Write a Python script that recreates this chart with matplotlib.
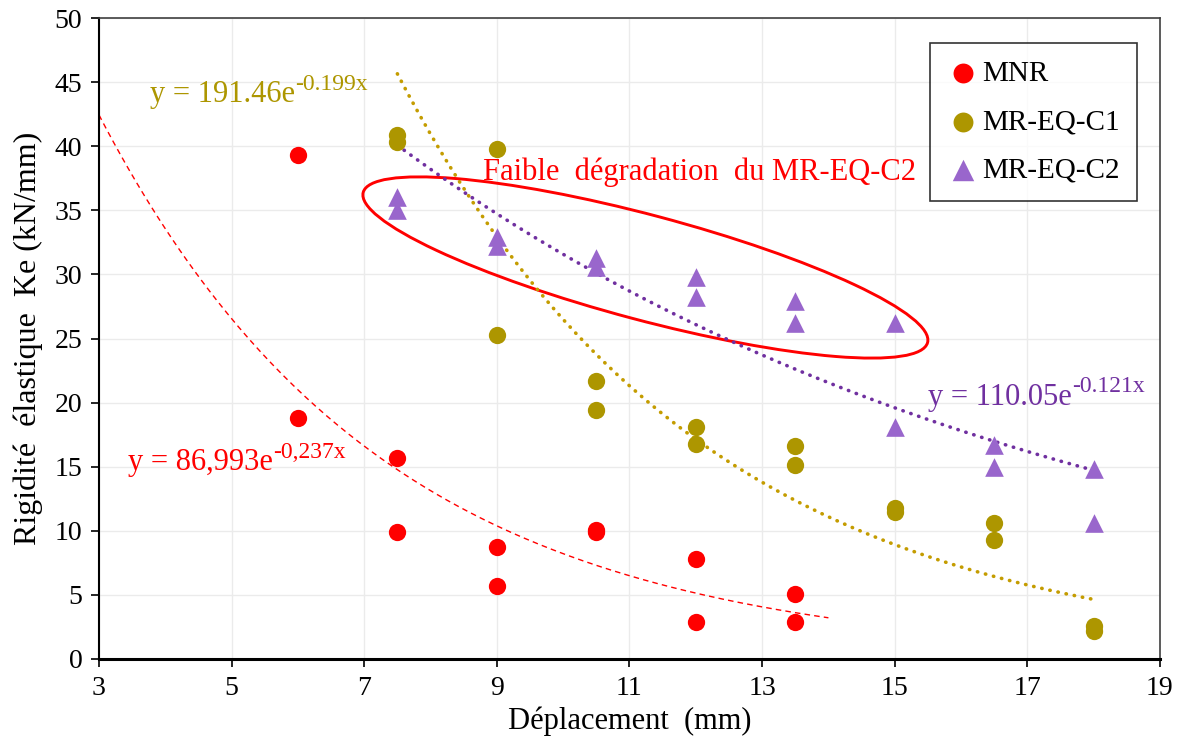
import numpy as np
import matplotlib
matplotlib.use("Agg")
import matplotlib.pyplot as plt
from matplotlib.patches import Ellipse
from matplotlib.transforms import ScaledTranslation

plt.rcParams['font.family'] = ['Liberation Serif', 'DejaVu Serif']

# data
x_mnr = [6, 6, 7.5, 7.5, 9, 9, 10.5, 10.5, 12, 12, 13.5, 13.5]
y_mnr = [39.3, 18.8, 15.7, 9.9, 8.7, 5.7, 10.1, 9.9, 7.8, 2.9, 5.1, 2.9]

x_c1 = [7.5, 7.5, 9, 9, 10.5, 10.5, 12, 12, 13.5, 13.5, 15, 15, 16.5, 16.5, 18, 18]
y_c1 = [40.9, 40.3, 39.8, 25.3, 21.7, 19.4, 18.1, 16.8, 16.6, 15.1, 11.8, 11.5, 10.6, 9.3, 2.6, 2.2]

x_c2 = [7.5, 7.5, 9, 9, 10.5, 10.5, 12, 12, 13.5, 13.5, 15, 15, 16.5, 16.5, 18, 18]
y_c2 = [36.0, 35.0, 32.9, 32.2, 31.3, 30.6, 29.8, 28.2, 27.9, 26.2, 26.2, 18.1, 16.7, 15.0, 14.8, 10.6]

red = '#FF0000'
olive = '#AD9600'
olive_line = '#C49C00'
purple = '#9966CC'
purple_line = '#7030A0'


def expfit(x, y, x0, x1):
    # exponential trendline, like excel (log-linear fit)
    b, lna = np.polyfit(x, np.log(y), 1)
    xs = np.linspace(x0, x1, 200)
    return xs, np.exp(lna) * np.exp(b * xs)


def equation(ax, x, y, base, sup, color):
    t = ax.text(x, y, base, color=color, fontsize=22, va='center')
    ax.annotate(sup, xy=(1, 0.5), xycoords=t, color=color, fontsize=17, va='bottom', ha='left')


fig = plt.figure(figsize=(11.81, 7.42), dpi=100)
ax = fig.add_axes([0.0838, 0.1119, 0.8984, 0.8638])

ax.grid(True, color='#EBEBEB', linewidth=1)
ax.set_axisbelow(True)

xs, ys = expfit(x_mnr, y_mnr, 3, 14)
ax.plot(xs, ys, color=red, lw=1, linestyle=(0, (4, 3)))
xs, ys = expfit(x_c1, y_c1, 7.5, 18)
ax.plot(xs, ys, color=olive_line, lw=2.6, linestyle=(0, (0.1, 2.2)), dash_capstyle='round')
xs, ys = expfit(x_c2, y_c2, 7.5, 18)
ax.plot(xs, ys, color=purple_line, lw=2.6, linestyle=(0, (0.1, 2.2)), dash_capstyle='round')

ax.scatter(x_mnr, y_mnr, s=155, color=red, marker='o', label='MNR', zorder=3, linewidths=0)
ax.scatter(x_c1, y_c1, s=155, color=olive, marker='o', label='MR-EQ-C1', zorder=3, linewidths=0)
ax.scatter(x_c2, y_c2, s=180, color=purple, marker='^', label='MR-EQ-C2', zorder=3, linewidths=0)

ax.set_xlim(3, 19)
ax.set_ylim(0, 50)
ax.set_xticks(np.arange(3, 20, 2))
ax.set_yticks(np.arange(0, 51, 5))
ax.tick_params(direction='out', length=6, width=1.2, labelsize=20, pad=6)

for s in ['top', 'right']:
    ax.spines[s].set_color('#404040')
    ax.spines[s].set_linewidth(1.2)
ax.spines['left'].set_linewidth(1.5)
ax.spines['bottom'].set_linewidth(2.2)

ax.set_xlabel('Déplacement  (mm)', fontsize=22, labelpad=4)
ax.set_ylabel('Rigidité  élastique  Ke (kN/mm)', fontsize=23, labelpad=8)

# equations of the trendlines
equation(ax, 3.77, 44.0, 'y = 191.46e', '-0.199x', olive)
equation(ax, 3.44, 15.3, 'y = 86,993e', '-0,237x', red)
equation(ax, 15.5, 20.4, 'y = 110.05e', '-0.121x', purple_line)

ax.text(8.79, 38.0, 'Faible  dégradation  du MR-EQ-C2', color=red, fontsize=22, va='center')

ell = Ellipse((0, 0), 5.84, 1.05, angle=-14.9, fill=False, edgecolor=red, lw=2.1,
              transform=fig.dpi_scale_trans + ScaledTranslation(11.24, 30.54, ax.transData))
ax.add_patch(ell)

leg = ax.legend(loc='upper left', bbox_to_anchor=(0.783, 0.961), fontsize=21, frameon=True,
                fancybox=False, edgecolor='black', labelspacing=0.75, handletextpad=0.1,
                handlelength=1.1, borderpad=0.6, borderaxespad=0, markerscale=1.15)
leg.get_frame().set_linewidth(1.2)

fig.savefig('out.png', dpi=100)
